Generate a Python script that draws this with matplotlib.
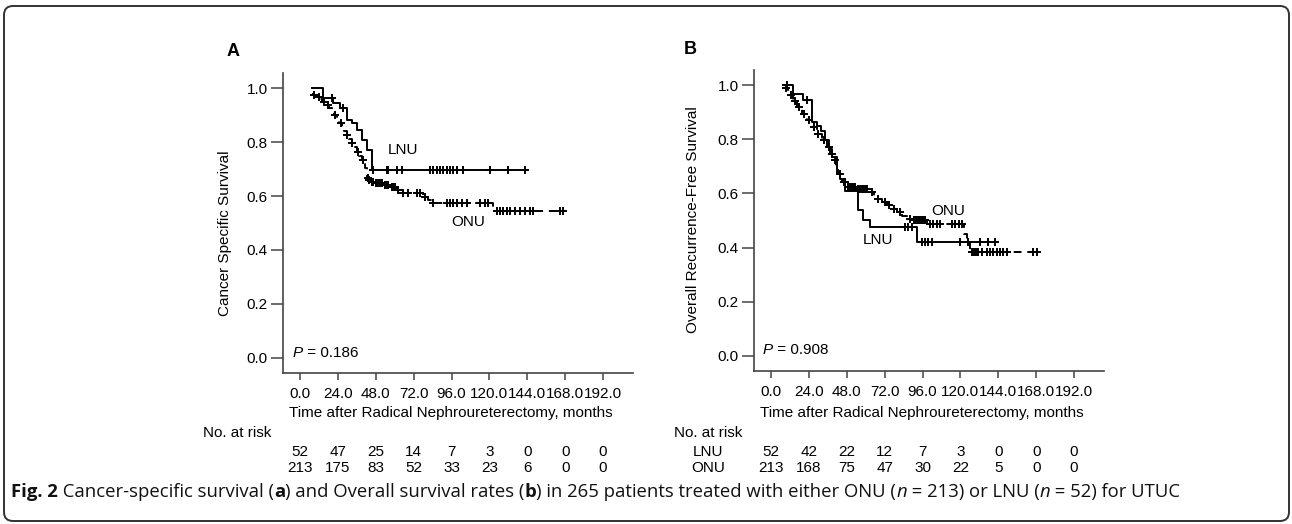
import numpy as np
import matplotlib
matplotlib.use("Agg")
import matplotlib.pyplot as plt
from matplotlib import font_manager
from matplotlib.patches import FancyBboxPatch
from matplotlib.transforms import blended_transform_factory

# ---- data (months, survival) ----
risk_times = [0, 24, 48, 72, 96, 120, 144, 168, 192]

# panel A: cancer specific survival
lnu_a_t = [7.4, 14.8, 21.1, 25.3, 29.6, 32.7, 35.9, 39.1, 42.3, 45.4, 143.6]
lnu_a_s = [1.0, 0.962, 0.944, 0.925, 0.881, 0.870, 0.844, 0.807, 0.770, 0.696, 0.696]
lnu_a_cens = [20.0, 27.5, 46.5, 54.9, 55.9, 61.3, 64.4, 82.4, 84.5, 86.6, 88.7, 90.8,
              92.9, 95.0, 97.1, 99.2, 103.4, 120.4, 132.0, 142.6]

onu_a_t = [7.4, 9.0, 10.6, 12.2, 13.7, 15.3, 16.9, 18.5, 20.1, 21.6, 23.2, 24.8, 26.4,
           28.0, 29.6, 31.1, 32.7, 34.3, 35.9, 37.5, 39.1, 40.1, 41.2, 42.2, 43.5, 45.0,
           47.5, 53.0, 57.5, 61.5, 63.4, 78.2, 81.3, 83.4, 122.5, 168.0]
onu_a_s = [0.980, 0.974, 0.968, 0.958, 0.949, 0.943, 0.937, 0.925, 0.912, 0.900, 0.888,
           0.872, 0.857, 0.841, 0.826, 0.810, 0.795, 0.780, 0.764, 0.748, 0.733, 0.718,
           0.703, 0.665, 0.659, 0.653, 0.647, 0.641, 0.635, 0.623, 0.611, 0.598, 0.586,
           0.574, 0.543, 0.543]
onu_a_cens = [9.0, 12.0, 15.0, 18.0, 22.0, 26.0, 30.0, 33.0, 37.0, 40.0, 43.0, 44.0,
              45.5, 46.5, 48.0, 49.0, 50.0, 51.0, 52.0, 54.0, 55.0, 56.0, 58.0, 59.0,
              60.0, 62.0, 65.5, 68.6, 73.9, 76.0, 79.2, 84.5, 93.0, 95.1, 97.2, 99.3,
              102.5, 105.6, 114.1, 117.2, 119.3, 124.6, 126.7, 128.5, 131.0, 133.1,
              136.2, 139.4, 142.6, 145.8, 147.8, 164.8, 166.9]

a_lnu_risk = [52, 47, 25, 14, 7, 3, 0, 0, 0]
a_onu_risk = [213, 175, 83, 52, 33, 23, 6, 0, 0]

# panel B: overall recurrence-free survival
lnu_b_t = [7.8, 14.1, 20.5, 25.8, 29.0, 31.5, 34.2, 36.5, 38.4, 41.6, 43.7, 47.0, 55.3,
           58.5, 63.0, 92.3, 143.0]
lnu_b_s = [1.0, 0.969, 0.944, 0.864, 0.850, 0.830, 0.796, 0.765, 0.735, 0.673, 0.654,
           0.610, 0.537, 0.500, 0.475, 0.420, 0.420]
lnu_b_cens = [10.0, 23.0, 84.9, 87.1, 89.2, 95.5, 97.6, 99.7, 101.8, 119.8, 125.0,
              132.4, 137.7, 141.9]

onu_b_t = [7.8, 11.0, 13.7, 16.3, 19.5, 22.6, 25.8, 29.0, 32.0, 35.3, 37.5, 39.5, 41.0,
           42.7, 44.8, 48.0, 54.3, 62.7, 65.0, 67.0, 70.0, 73.3, 76.5, 79.7, 83.0, 86.0,
           90.2, 99.0, 122.5, 124.0, 126.1, 168.4]
onu_b_s = [0.988, 0.963, 0.940, 0.920, 0.895, 0.870, 0.845, 0.821, 0.797, 0.772, 0.747,
           0.722, 0.698, 0.673, 0.642, 0.623, 0.617, 0.605, 0.592, 0.580, 0.568, 0.556,
           0.543, 0.531, 0.518, 0.506, 0.500, 0.488, 0.450, 0.426, 0.385, 0.385]
onu_b_cens = [9.5, 12.5, 15.0, 18.0, 21.0, 24.0, 27.0, 30.0, 33.5, 36.5, 38.5, 40.5,
              43.5, 46.0, 47.0, 49.0, 50.0, 51.0, 52.0, 53.0, 55.0, 56.0, 57.0, 58.0,
              59.0, 60.0, 61.0, 64.0, 68.0, 72.0, 75.0, 78.0, 82.0, 88.0, 90.5, 91.5,
              92.5, 93.5, 94.5, 95.5, 96.5, 97.5, 100.8, 102.9, 105.0, 107.1, 114.5,
              116.6, 118.8, 120.9, 127.2, 128.5, 129.3, 130.5, 131.4, 133.5, 136.7,
              138.8, 140.9, 143.0, 145.1, 147.2, 149.4, 166.2, 168.4]

b_lnu_risk = [52, 42, 22, 12, 7, 3, 0, 0, 0]
b_onu_risk = [213, 168, 75, 47, 30, 22, 5, 0, 0]

# ---- fonts ----
plt.rcParams['font.family'] = ['Liberation Sans', 'DejaVu Sans']
names = {f.name for f in font_manager.fontManager.ttflist}
cap_font = 'Liberation Sans Narrow' if 'Liberation Sans Narrow' in names else 'Open Sans'
FS = 11

W, H = 1292, 524
fig = plt.figure(figsize=(W / 100, H / 100), dpi=100)


def fx(px):
    return px / W


def fy(py):
    return 1 - py / H


def km(ax, t, s, cens, ls):
    t = np.asarray(t)
    s = np.asarray(s)
    ax.step(t, s, where='post', color='black', lw=1.4, linestyle=ls, zorder=3)
    c = np.asarray(cens)
    idx = np.searchsorted(t, c, side='right') - 1
    ax.plot(c, s[idx], linestyle='none', marker='+', ms=6, mew=1.4, color='black', zorder=4)


def panel(left, top, right, bottom):
    ax = fig.add_axes([fx(left), fy(bottom), fx(right) - fx(left), (bottom - top) / H])
    ax.set_xlim(-10.8, 211)
    ax.set_ylim(-0.056, 1.056)
    for sp in ['top', 'right']:
        ax.spines[sp].set_visible(False)
    for sp in ['left', 'bottom']:
        ax.spines[sp].set_color('#444444')
        ax.spines[sp].set_linewidth(1.2)
    ax.set_xticks(risk_times)
    ax.set_xticklabels([f'{v:.1f}' for v in risk_times])
    yt = [0.0, 0.2, 0.4, 0.6, 0.8, 1.0]
    ax.set_yticks(yt)
    ax.set_yticklabels([f'{v:.1f}' for v in yt])
    ax.tick_params(axis='y', length=9, width=1.1, color='#444444', pad=2, labelsize=FS)
    ax.tick_params(axis='x', length=5, width=1.1, color='#444444', pad=5, labelsize=FS)
    return ax


axA = panel(283, 73, 633, 373)
axB = panel(754, 70, 1104, 371)

km(axA, onu_a_t, onu_a_s, onu_a_cens, (0, (4, 3)))
km(axA, lnu_a_t, lnu_a_s, lnu_a_cens, '-')
km(axB, onu_b_t, onu_b_s, onu_b_cens, (0, (4, 3)))
km(axB, lnu_b_t, lnu_b_s, lnu_b_cens, '-')

# panel letters, axis titles
fig.text(fx(233), fy(52), 'A', fontsize=13, fontweight='bold', ha='center', va='center')
fig.text(fx(690), fy(50), 'B', fontsize=13, fontweight='bold', ha='center', va='center')
fig.text(fx(225), fy(233), 'Cancer Specific Survival', rotation=90, fontsize=FS,
         ha='center', va='center')
fig.text(fx(693), fy(220), 'Overall Recurrence-Free Survival', rotation=90, fontsize=FS,
         ha='center', va='center')

# curve labels
fig.text(fx(403), fy(150), 'LNU', fontsize=FS, ha='center', va='center')
fig.text(fx(468), fy(222), 'ONU', fontsize=FS, ha='center', va='center')
fig.text(fx(948), fy(211), 'ONU', fontsize=FS, ha='center', va='center')
fig.text(fx(878), fy(240), 'LNU', fontsize=FS, ha='center', va='center')

# p values
for ax, px, py, val in [(axA, 293, 353, '= 0.186'), (axB, 763, 350, '= 0.908')]:
    p = fig.text(fx(px), fy(py), 'P', fontsize=FS, style='italic', ha='left', va='center')
    ax.annotate(' ' + val, xy=(1, 0), xycoords=p, fontsize=FS, ha='left', va='bottom')

# x labels and at-risk table
for ax, x_lab, x_nar, labels in [(axA, 451, 237, False), (axB, 922, 708, True)]:
    fig.text(fx(x_lab), fy(413), 'Time after Radical Nephroureterectomy, months',
             fontsize=FS, ha='center', va='center')
    fig.text(fx(x_nar), fy(433), 'No. at risk', fontsize=FS, ha='center', va='center')
    if labels:
        fig.text(fx(x_nar), fy(452), 'LNU', fontsize=FS, ha='center', va='center')
        fig.text(fx(x_nar), fy(468), 'ONU', fontsize=FS, ha='center', va='center')

for ax, r1, r2 in [(axA, a_lnu_risk, a_onu_risk), (axB, b_lnu_risk, b_onu_risk)]:
    tr = blended_transform_factory(ax.transData, fig.transFigure)
    for t, n1, n2 in zip(risk_times, r1, r2):
        ax.text(t, fy(452), str(n1), transform=tr, fontsize=FS, ha='center', va='center',
                clip_on=False)
        ax.text(t, fy(468), str(n2), transform=tr, fontsize=FS, ha='center', va='center',
                clip_on=False)

# caption
cap = fig.add_axes([0, 0, 1, 1])
cap.axis('off')
pieces = [('Fig. 2', 'bold', 'normal'),
          (' Cancer-specific survival (', 'normal', 'normal'),
          ('a', 'bold', 'normal'),
          (') and Overall survival rates (', 'normal', 'normal'),
          ('b', 'bold', 'normal'),
          (') in 265 patients treated with either ONU (', 'normal', 'normal'),
          ('n', 'normal', 'italic'),
          (' = 213) or LNU (', 'normal', 'normal'),
          ('n', 'normal', 'italic'),
          (' = 52) for UTUC', 'normal', 'normal')]
arts = []
for i, (txt, wt, st) in enumerate(pieces):
    if i == 0:
        a = cap.text(fx(11), fy(492), txt, fontsize=12, fontweight=wt, style=st,
                     family=cap_font, ha='left', va='center', color='#111111')
    else:
        a = cap.annotate(txt, xy=(1, 0), xycoords=arts[-1], fontsize=12, fontweight=wt,
                         style=st, family=cap_font, ha='left', va='bottom', color='#111111')
    arts.append(a)

renderer = fig.canvas.get_renderer()
x0 = arts[0].get_window_extent(renderer).x0
x1 = arts[-1].get_window_extent(renderer).x1
scale = (1175 - 11) / (x1 - x0)
for a in arts:
    a.set_fontsize(12 * scale)

# border
fig.patches.append(FancyBboxPatch((0.04, 0.03), 12.85, 5.15,
                                  boxstyle='round,pad=0,rounding_size=0.09',
                                  transform=fig.dpi_scale_trans, fill=False,
                                  edgecolor='#333333', linewidth=1.4))

fig.savefig('out.png', dpi=100)
